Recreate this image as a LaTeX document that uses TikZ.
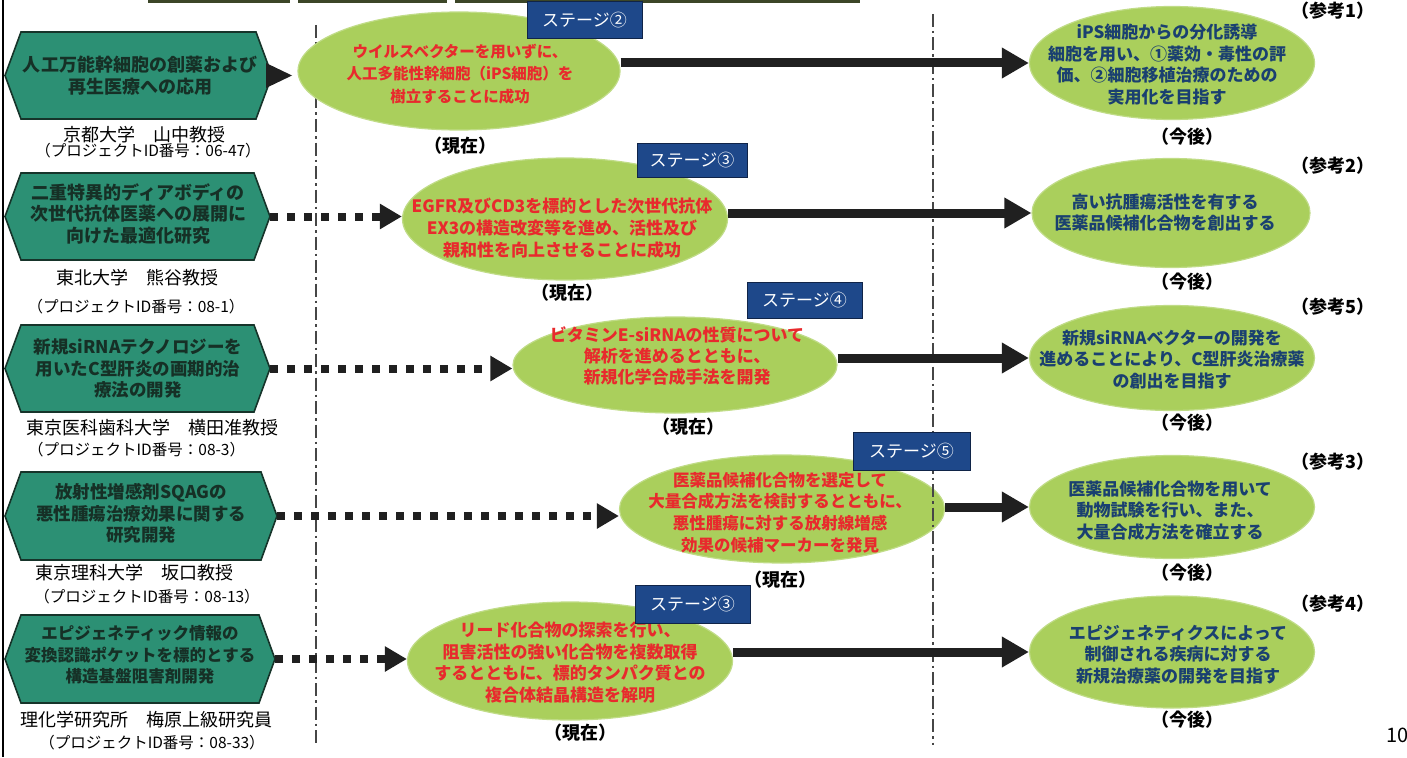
\documentclass[tikz,border=0pt]{standalone}
\usepackage{fontspec}
\setmainfont{Noto Sans CJK JP}
\usetikzlibrary{shapes.geometric,arrows.meta,calc}
\definecolor{hexteal}{RGB}{44,144,116}
\definecolor{hexdark}{RGB}{22,52,42}
\definecolor{hextxt}{RGB}{22,48,38}
\definecolor{leaf}{RGB}{170,207,92}
\definecolor{leafedge}{RGB}{192,220,135}
\definecolor{redt}{RGB}{232,42,45}
\definecolor{bluet}{RGB}{26,64,112}
\definecolor{stageblue}{RGB}{30,72,138}
\definecolor{stagedark}{RGB}{16,36,72}
\definecolor{arrowc}{RGB}{32,32,32}
\definecolor{guidec}{RGB}{70,70,70}
\definecolor{topstrip}{RGB}{60,70,40}
\begin{document}
\begin{tikzpicture}[x=1pt,y=-1pt,
  hexshape/.style={fill=hexteal, draw=hexdark, line width=1.6pt, line join=miter},
  hextext/.style={font=\bfseries\fontsize{17.5}{21.5}\selectfont, text=hextxt, align=center, inner sep=0pt},
  affil/.style={font=\fontsize{18}{18}\selectfont, text=black, inner sep=0pt},
  idline/.style={font=\fontsize{15.5}{16}\selectfont, text=black, inner sep=0pt},
  cell/.style={ellipse, fill=leaf, draw=leafedge, line width=1.2pt, inner sep=0pt},
  redtext/.style={font=\bfseries\fontsize{17}{21.7}\selectfont, text=redt, align=center, inner sep=0pt},
  bluetext/.style={font=\bfseries\fontsize{17}{21.7}\selectfont, text=bluet, align=center, inner sep=0pt},
  stagebox/.style={rectangle, fill=stageblue, draw=stagedark, line width=1pt, text=white, font=\fontsize{17}{17}\selectfont, inner sep=0pt, minimum width=115pt, minimum height=37pt},
  tagtext/.style={font=\bfseries\fontsize{18}{18}\selectfont, text=black, inner sep=0pt},
  solidarrow/.style={draw=arrowc, line width=9pt, -{Triangle[length=27pt,width=29pt]}},
  dotarrow/.style={draw=arrowc, line width=8pt, dash pattern=on 8pt off 9pt, -{Triangle[length=22pt,width=24pt]}},
  guide/.style={draw=guidec, line width=1.8pt, dash pattern=on 13pt off 4pt on 2.5pt off 4pt},
]
\useasboundingbox (0,0) rectangle (1407,757);
\fill[white] (0,0) rectangle (1407,757);

% page frame and top strips
\draw[black, line width=1.5pt] (3,0) -- (3,757);
\fill[topstrip] (148,0) rectangle (290,3.5);
\fill[topstrip] (298,0) rectangle (447,3.5);
\fill[topstrip] (455,0) rectangle (860,3.5);

% left guide line
\draw[guide] (316,25) -- (316,745);

% hexagons
\draw[hexshape] (5,75.5) -- (21,32) -- (256,32) -- (272,75.5) -- (256,119) -- (21,119) -- cycle;
\coordinate (h1tip) at (272,75.5);
\node[hextext, font=\bfseries\fontsize{18}{22}\selectfont] (h1) at (140,76) {人工万能幹細胞の創薬および\\再生医療への応用};
\fill[arrowc] (266,63) -- (292,75.5) -- (266,88) -- cycle;

\draw[hexshape] (5,216.5) -- (21,173) -- (254,173) -- (270,216.5) -- (254,260) -- (21,260) -- cycle;
\coordinate (h2tip) at (270,216.5);
\node[hextext, font=\bfseries\fontsize{18}{21.5}\selectfont] (h2) at (138,214) {二重特異的ディアボディの\\次世代抗体医薬への展開に\\向けた最適化研究};

\draw[hexshape] (5,368.5) -- (21,325) -- (254,325) -- (270,368.5) -- (254,412) -- (21,412) -- cycle;
\coordinate (h3tip) at (270,368.5);
\node[hextext] (h3) at (138,368.5) {新規siRNAテクノロジーを\\用いたC型肝炎の画期的治\\療法の開発};

\draw[hexshape] (5,516) -- (21,472) -- (261,472) -- (277,516) -- (261,560) -- (21,560) -- cycle;
\coordinate (h4tip) at (277,516);
\node[hextext] (h4) at (141,513.5) {放射性増感剤SQAGの\\悪性腫瘍治療効果に関する\\研究開発};

\draw[hexshape] (5,659) -- (21,615) -- (259,615) -- (275,659) -- (259,703) -- (21,703) -- cycle;
\coordinate (h5tip) at (275,659);
\node[hextext, font=\bfseries\fontsize{16.5}{21.5}\selectfont] (h5) at (140,655) {エピジェネティック情報の\\変換認識ポケットを標的とする\\構造基盤阻害剤開発};

% affiliations
\node[affil] (a1) at (144,135) {京都大学　山中教授};
\node[idline] (i1) at (148,151) {（プロジェクトID番号：06-47）};
\node[affil] (a2) at (137,278) {東北大学　熊谷教授};
\node[idline] (i2) at (136,307) {（プロジェクトID番号：08-1）};
\node[affil, anchor=west] (a3) at (26,428) {東京医科歯科大学　横田准教授};
\node[idline, anchor=west] (i3) at (28,450) {（プロジェクトID番号：08-3）};
\node[affil] (a4) at (134,573) {東京理科大学　坂口教授};
\node[idline] (i4) at (147,597) {（プロジェクトID番号：08-13）};
\node[affil] (a5) at (146,720) {理化学研究所　梅原上級研究員};
\node[idline] (i5) at (152,743) {（プロジェクトID番号：08-33）};

% middle ellipses
\node[cell, minimum width=322pt, minimum height=118pt] (e1) at (459,71) {};
\node[cell, minimum width=325pt, minimum height=122pt] (e2) at (565,219) {};
\node[cell, minimum width=324pt, minimum height=96pt] (e3) at (675,365) {};
\node[cell, minimum width=325pt, minimum height=108pt] (e4) at (782,509) {};
\node[cell, minimum width=325pt, minimum height=118pt] (e5) at (570,661) {};

% right ellipses
\node[cell, minimum width=285pt, minimum height=113pt] (r1) at (1172,63) {};
\node[cell, minimum width=278pt, minimum height=109pt] (r2) at (1171,213) {};
\node[cell, minimum width=285pt, minimum height=105pt] (r3) at (1172,358) {};
\node[cell, minimum width=285pt, minimum height=103pt] (r4) at (1172,507) {};
\node[cell, minimum width=285pt, minimum height=112pt] (r5) at (1172,652) {};

% right guide line
\draw[guide] (933,14) -- (933,745);

% texts in middle ellipses
\node[redtext, font=\bfseries\fontsize{15.5}{22.5}\selectfont] (t1) at (460,74) {ウイルスベクターを用いずに、\\人工多能性幹細胞（iPS細胞）を\\樹立することに成功};
\node[redtext] (t2) at (562,228) {EGFR及びCD3を標的とした次世代抗体\\EX3の構造改変等を進め、活性及び\\親和性を向上させることに成功};
\node[redtext, font=\bfseries\fontsize{17}{21}\selectfont] (t3) at (677,356) {ビタミンE-siRNAの性質について\\解析を進めるとともに、\\新規化学合成手法を開発};
\node[redtext, font=\bfseries\fontsize{16.5}{21.7}\selectfont] (t4) at (780,512.5) {医薬品候補化合物を選定して\\大量合成方法を検討するとともに、\\悪性腫瘍に対する放射線増感\\効果の候補マーカーを発見};
\node[redtext] (t5) at (570,662.5) {リード化合物の探索を行い、\\阻害活性の強い化合物を複数取得\\するとともに、標的タンパク質との\\複合体結晶構造を解明};

% texts in right ellipses
\node[bluetext] (u1) at (1167,64.5) {iPS細胞からの分化誘導\\細胞を用い、①薬効・毒性の評\\価、②細胞移植治療のための\\実用化を目指す};
\node[bluetext] (u2) at (1165,212.5) {高い抗腫瘍活性を有する\\医薬品候補化合物を創出する};
\node[bluetext] (u3) at (1172,359.5) {新規siRNAベクターの開発を\\進めることにより、C型肝炎治療薬\\の創出を目指す};
\node[bluetext] (u4) at (1170,510.5) {医薬品候補化合物を用いて\\動物試験を行い、また、\\大量合成方法を確立する};
\node[bluetext] (u5) at (1178,654.5) {エピジェネティクスによって\\制御される疾病に対する\\新規治療薬の開発を目指す};

% connectors
\draw[dotarrow] (h2tip) -- (h2tip -| e2.west);
\draw[dotarrow] (h3tip) -- (h3tip -| e3.west);
\draw[dotarrow] (h4tip) -- (h4tip -| e4.west);
\draw[dotarrow] (h5tip) -- (h5tip -| e5.west);
\draw[solidarrow] (e1.east |- r1.west) -- (r1.west);
\draw[solidarrow] (e2.east |- r2.west) -- (r2.west);
\draw[solidarrow] (e3.east |- r3.west) -- (r3.west);
\draw[solidarrow] (e4.east |- r4.west) -- (r4.west);
\draw[solidarrow] (e5.east |- r5.west) -- (r5.west);

% stage boxes
\node[stagebox] (s1) at (584.5,20.5) {ステージ②};
\node[stagebox, minimum width=110pt, minimum height=34pt] (s2) at (692,160) {ステージ③};
\node[stagebox, minimum height=36pt] (s3) at (804.5,300) {ステージ④};
\node[stagebox, minimum width=117pt, minimum height=38pt] (s4) at (911.5,451) {ステージ⑤};
\node[stagebox, minimum height=38pt] (s5) at (692.5,604) {ステージ③};

% tags
\node[tagtext] (n1) at (460,146) {（現在）};
\node[tagtext] (n2) at (567,293) {（現在）};
\node[tagtext] (n3) at (688,427) {（現在）};
\node[tagtext] (n4) at (780,580) {（現在）};
\node[tagtext] (n5) at (580,733) {（現在）};
\node[tagtext] (f1) at (1187,137) {（今後）};
\node[tagtext] (f2) at (1187,282) {（今後）};
\node[tagtext] (f3) at (1187,423) {（今後）};
\node[tagtext] (f4) at (1187,573) {（今後）};
\node[tagtext] (f5) at (1187,720) {（今後）};
\node[tagtext] (k1) at (1333,10.5) {（参考1）};
\node[tagtext] (k2) at (1333,166) {（参考2）};
\node[tagtext] (k3) at (1333,307) {（参考5）};
\node[tagtext] (k4) at (1333,462) {（参考3）};
\node[tagtext] (k5) at (1333,604) {（参考4）};
\node[font=\fontsize{20}{20}\selectfont, anchor=west, inner sep=0pt] (pg) at (1386,735) {10};
\end{tikzpicture}
\end{document}
